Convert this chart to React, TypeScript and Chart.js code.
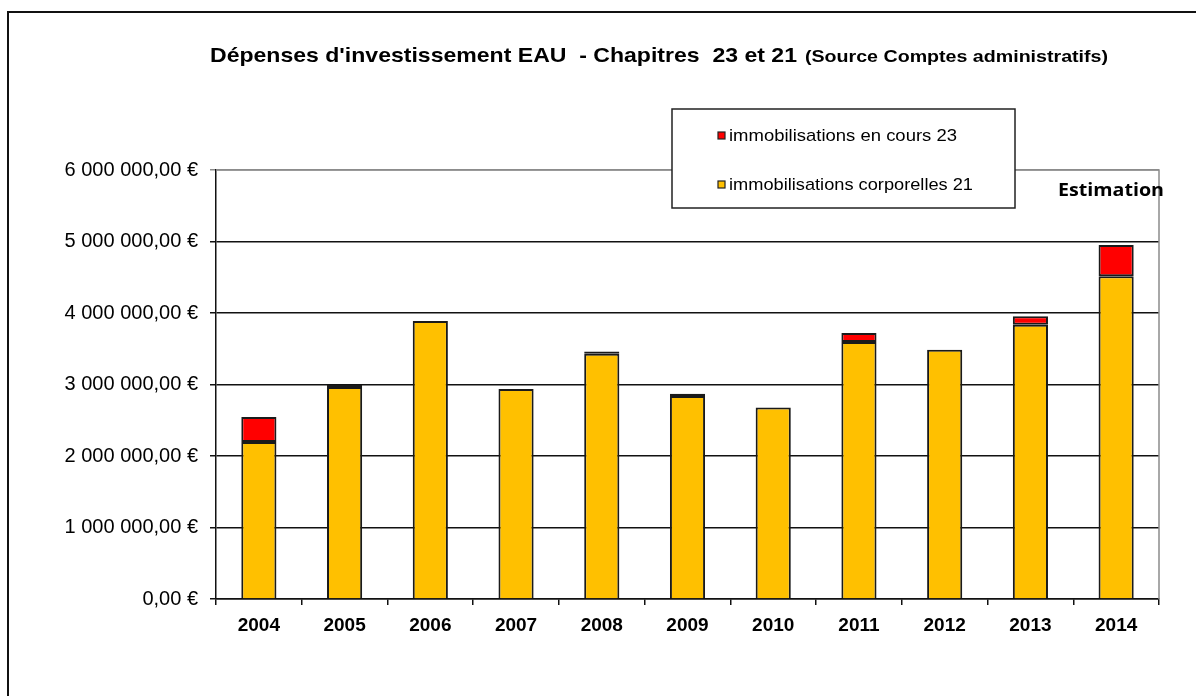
import React, { useEffect, useRef } from "react";
import { Chart, registerables } from "chart.js";

Chart.register(...registerables);

const years = ["2004", "2005", "2006", "2007", "2008", "2009", "2010", "2011", "2012", "2013", "2014"];
const corporelles21 = [2196000, 2965000, 3888000, 2937000, 3430000, 2840000, 2680000, 3594000, 3487000, 3836000, 4513000];
const enCours23 = [350000, 35000, null, null, 30000, 30000, null, 125000, null, 118000, 438000];
const seriesNames = ["immobilisations en cours 23", "immobilisations corporelles 21"];
const titleMain = "Dépenses d'investissement EAU  - Chapitres  23 et 21";
const titleSource = "(Source Comptes administratifs)";
const estimationLabel = "Estimation";

const FONT = "'Liberation Sans', Arial, sans-serif";
const YELLOW = "#FFC000";
const RED = "#FF0000";

function formatEuro(v: number): string {
  const fixed = Math.abs(v).toFixed(2);
  const [intPart, dec] = fixed.split(".");
  const grouped = intPart.replace(/\B(?=(\d{3})+(?!\d))/g, " ");
  return grouped + "," + dec + " €";
}

function drawScaledText(ctx: CanvasRenderingContext2D, text: string, x: number, y: number, font: string, targetWidth: number) {
  ctx.save();
  ctx.font = font;
  const w = ctx.measureText(text).width;
  const s = targetWidth / w;
  ctx.translate(x, y);
  ctx.scale(s, 1);
  ctx.textAlign = "left";
  ctx.textBaseline = "middle";
  ctx.fillText(text, 0, 0);
  ctx.restore();
}

const decorPlugin = {
  id: "decor",
  afterDraw(chart: any) {
    const ctx: CanvasRenderingContext2D = chart.ctx;
    const area = chart.chartArea;
    ctx.save();
    // outer frame (top + left)
    ctx.strokeStyle = "#111";
    ctx.lineWidth = 2;
    ctx.beginPath();
    ctx.moveTo(8, 696);
    ctx.lineTo(8, 12);
    ctx.lineTo(1196, 12);
    ctx.stroke();

    // plot right/top border gray
    ctx.strokeStyle = "#8c8c8c";
    ctx.lineWidth = 1.5;
    ctx.beginPath();
    ctx.moveTo(area.left, area.top);
    ctx.lineTo(area.right, area.top);
    ctx.lineTo(area.right, area.bottom);
    ctx.stroke();

    // title
    ctx.fillStyle = "#000";
    drawScaledText(ctx, titleMain, 210, 56, `bold 21px ${FONT}`, 587);
    drawScaledText(ctx, titleSource, 805, 57, `bold 17px ${FONT}`, 303);

    // legend box
    ctx.fillStyle = "#fff";
    ctx.fillRect(672, 109, 343, 99);
    ctx.strokeStyle = "#222";
    ctx.lineWidth = 1.5;
    ctx.strokeRect(672, 109, 343, 99);
    const items = [
      { name: seriesNames[0], color: RED, y: 136, w: 228 },
      { name: seriesNames[1], color: YELLOW, y: 185, w: 244 },
    ];
    for (const it of items) {
      ctx.fillStyle = it.color;
      ctx.fillRect(718, it.y - 4, 7, 7);
      ctx.strokeStyle = "#222";
      ctx.lineWidth = 1.2;
      ctx.strokeRect(718, it.y - 4, 7, 7);
      ctx.fillStyle = "#000";
      drawScaledText(ctx, it.name, 729, it.y, `17px ${FONT}`, it.w);
    }

    // Estimation
    ctx.fillStyle = "#000";
    drawScaledText(ctx, estimationLabel, 1058, 191, `bold 18px 'Open Sans', ${FONT}`, 106);
    ctx.restore();
  },
};

export default function App() {
  const ref = useRef<HTMLCanvasElement | null>(null);
  useEffect(() => {
    document.body.style.margin = "0";
    const canvas = ref.current!;
    const chart = new Chart(canvas, {
      type: "bar",
      data: {
        labels: years,
        datasets: [
          {
            label: seriesNames[1],
            data: corporelles21,
            backgroundColor: YELLOW,
            borderColor: "#1a1a1a",
            borderWidth: 2,
            borderSkipped: "bottom",
            barPercentage: 0.41,
            categoryPercentage: 1,
          },
          {
            label: seriesNames[0],
            data: enCours23,
            backgroundColor: RED,
            borderColor: "#1a1a1a",
            borderWidth: 2,
            borderSkipped: false,
            barPercentage: 0.41,
            categoryPercentage: 1,
          },
        ],
      },
      options: {
        responsive: false,
        animation: false,
        devicePixelRatio: 1,
        layout: { padding: { top: 170, right: 37, left: 0, bottom: 0 } },
        plugins: {
          legend: { display: false },
          title: { display: false },
          tooltip: { enabled: false },
        },
        scales: {
          x: {
            stacked: true,
            grid: {
              display: true,
              drawOnChartArea: false,
              drawTicks: true,
              tickLength: 6,
              color: "#111",
              lineWidth: 1.5,
            },
            border: { display: true, color: "#111", width: 1.5 },
            ticks: {
              color: "#000",
              font: { family: FONT, size: 19, weight: "bold" },
              padding: 9,
              maxRotation: 0,
            },
            afterFit(scale: any) {
              scale.height = 97;
            },
          },
          y: {
            stacked: true,
            min: 0,
            max: 6000000,
            grid: {
              color: (c: any) => (c.tick && c.tick.value === 6000000 ? "#8c8c8c" : "#111"),
              lineWidth: 1.5,
              drawTicks: true,
              tickLength: 6,
            },
            border: { display: true, color: "#111", width: 1.5 },
            ticks: {
              stepSize: 1000000,
              color: "#000",
              font: { family: FONT, size: 20 },
              padding: 12,
              callback: (v: any) => formatEuro(Number(v)),
            },
            afterFit(scale: any) {
              scale.width = 216;
            },
          },
        },
      },
      plugins: [decorPlugin],
    });
    return () => chart.destroy();
  }, []);
  return (
    <div style={{ position: "fixed", left: 0, top: 0, width: 1196, height: 696, background: "#fff" }}>
      <canvas ref={ref} width={1196} height={696} style={{ width: 1196, height: 696, display: "block" }} />
    </div>
  );
}
